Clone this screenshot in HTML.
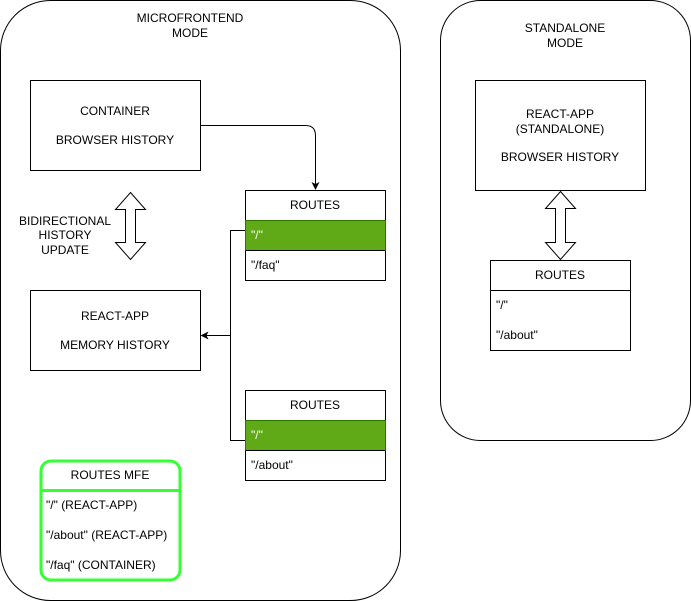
<!DOCTYPE html>
<html><head><meta charset="utf-8"><style>
html,body{margin:0;padding:0;background:#fff;}
svg{display:block;}
text{font-family:"Liberation Sans",Arial,sans-serif;font-size:12px;fill:#000;}
</style></head><body>
<svg width="691" height="601" viewBox="0 0 691 601" xmlns="http://www.w3.org/2000/svg">
<defs>
<marker id="ar" markerWidth="8" markerHeight="8" refX="7" refY="4" orient="auto" markerUnits="userSpaceOnUse">
<path d="M0,0 L8,4 L0,8 L2,4 Z" fill="#000"/>
</marker>
</defs>
<g fill="none" stroke="#000" stroke-width="1">
<rect x="0.5" y="0.5" width="400" height="600" rx="50"/>
<rect x="440.5" y="0.5" width="250" height="440" rx="40"/>
<rect x="30.5" y="80.5" width="170" height="90"/>
<rect x="30.5" y="290.5" width="170" height="80"/>
<rect x="475.5" y="80.5" width="170" height="110"/>
</g>
<text x="190" y="22" text-anchor="middle">MICROFRONTEND</text>
<text x="190" y="37" text-anchor="middle">MODE</text>
<text x="565" y="32" text-anchor="middle">STANDALONE</text>
<text x="565" y="47" text-anchor="middle">MODE</text>
<text x="115" y="115" text-anchor="middle">CONTAINER</text>
<text x="115" y="144" text-anchor="middle">BROWSER HISTORY</text>
<text x="115" y="320" text-anchor="middle">REACT-APP</text>
<text x="115" y="349" text-anchor="middle">MEMORY HISTORY</text>
<text x="560" y="118" text-anchor="middle">REACT-APP</text>
<text x="560" y="133" text-anchor="middle">(STANDALONE)</text>
<text x="560" y="161" text-anchor="middle">BROWSER HISTORY</text>
<text x="65" y="225" text-anchor="middle">BIDIRECTIONAL</text>
<text x="65" y="239" text-anchor="middle">HISTORY</text>
<text x="65" y="254" text-anchor="middle">UPDATE</text>
<!-- double arrows -->
<path d="M130.5,192.5 L145.5,209.5 L135.5,209.5 L135.5,242.5 L145.5,242.5 L130.5,259.5 L115.5,242.5 L125.5,242.5 L125.5,209.5 L115.5,209.5 Z" fill="#fff" stroke="#000"/>
<path d="M560.5,191.5 L575.5,208.5 L565.5,208.5 L565.5,242.5 L575.5,242.5 L560.5,259.5 L545.5,242.5 L555.5,242.5 L555.5,208.5 L545.5,208.5 Z" fill="#fff" stroke="#000"/>
<!-- routes 1 -->
<rect x="245.5" y="190.5" width="140" height="90" fill="#fff" stroke="#000"/>
<rect x="245.5" y="220.5" width="140" height="30" fill="#60a917" stroke="#2d7600"/>
<line x1="245.5" y1="250.5" x2="385.5" y2="250.5" stroke="#000"/>
<text x="315" y="209" text-anchor="middle">ROUTES</text>
<text x="251" y="239" style="fill:#fff">"/"</text>
<text x="251" y="269">"/faq"</text>
<!-- routes 2 -->
<rect x="245.5" y="390.5" width="140" height="90" fill="#fff" stroke="#000"/>
<rect x="245.5" y="420.5" width="140" height="30" fill="#60a917" stroke="#2d7600"/>
<line x1="245.5" y1="450.5" x2="385.5" y2="450.5" stroke="#000"/>
<text x="315" y="409" text-anchor="middle">ROUTES</text>
<text x="251" y="439" style="fill:#fff">"/"</text>
<text x="251" y="469">"/about"</text>
<!-- routes standalone -->
<rect x="490.5" y="260.5" width="140" height="90" fill="#fff" stroke="#000"/>
<line x1="490.5" y1="290.5" x2="630.5" y2="290.5" stroke="#000"/>
<text x="560" y="279" text-anchor="middle">ROUTES</text>
<text x="496" y="309">"/"</text>
<text x="496" y="339">"/about"</text>
<!-- connectors -->
<path d="M200.5,125.5 L305.5,125.5 Q315.5,125.5 315.5,135.5 L315.5,189" fill="none" stroke="#000" marker-end="url(#ar)"/>
<path d="M245,230.5 L230.5,230.5 L230.5,440.5 L245,440.5" fill="none" stroke="#000"/>
<path d="M230.5,335.5 L201.5,335.5" fill="none" stroke="#000" marker-end="url(#ar)"/>
<!-- routes MFE -->
<rect x="41" y="461" width="139" height="119" rx="10" fill="#fff" stroke="#33ff33" stroke-width="3"/>
<line x1="41" y1="490.5" x2="180" y2="490.5" stroke="#33ff33" stroke-width="3"/>
<text x="110" y="479" text-anchor="middle">ROUTES MFE</text>
<text x="46" y="509">"/" (REACT-APP)</text>
<text x="46" y="539">"/about" (REACT-APP)</text>
<text x="46" y="569">"/faq" (CONTAINER)</text>
</svg>
</body></html>
